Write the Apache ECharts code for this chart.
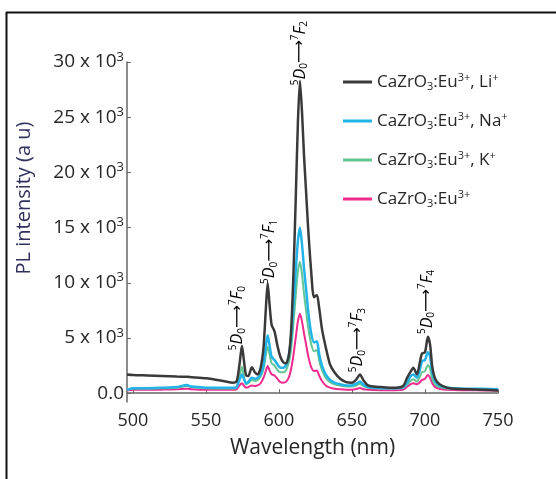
<!DOCTYPE html>
<html><head><meta charset="utf-8">
<script src="https://cdn.jsdelivr.net/npm/echarts@6/dist/echarts.min.js"></script>
<style>html,body{margin:0;padding:0;background:#fff}#c{width:556px;height:479px}</style>
</head><body><div id="c"></div>
<script>
const wavelengths = [496,500,510,520,530,537,540,550,560,568,571,573,574.7,576,577.5,579,581.5,583.5,585.5,587.5,589.5,591,592.3,593.5,595,597,599,601,603,605,607,608.5,610,611.5,613,614.4,615.8,617.2,618.5,620,622,624,626,627.5,629.5,632,635,638,642,646,650,653,655.5,658,661,665,670,675,680,685,688,690,692,694.5,696.5,698,700,702,703.5,705,707,710,715,720,730,740,750];
const liValues = [1700,1650,1600,1550,1500,1480,1450,1350,1150,950,1050,2600,4300,3000,1600,1550,2350,1900,1700,2300,4200,7500,9950,8200,6200,5600,4300,3300,2800,2700,3600,6000,11000,17500,24500,28300,25500,21500,18500,15000,11200,8700,8900,7800,5800,4200,2600,1900,1300,1000,950,1250,1700,1150,700,600,550,500,500,650,1450,1900,2300,1700,2800,3600,3700,5100,4400,2400,1300,800,500,400,350,300,250];
const naValues = [300,450,450,480,550,750,600,500,480,480,550,1200,1700,1300,900,1000,1400,1300,1400,1700,2600,4200,5250,4400,3300,3000,2600,2300,2300,2600,3600,5200,8000,11000,13800,15000,13500,11300,9600,7500,5500,4600,4700,3600,2500,1700,1200,950,800,700,700,850,1050,750,550,500,450,450,450,550,1000,1500,1700,1400,2100,2900,3000,3700,3300,1900,1100,700,500,450,400,400,350];
const kValues = [300,420,420,440,500,650,550,450,430,430,500,1500,2400,1500,800,900,1200,1100,1200,1500,2200,3400,4200,3600,2700,2500,2100,1900,1900,2100,2900,4200,6400,8800,11000,11900,10800,9000,7600,6000,4500,3800,3900,3000,2100,1400,1000,800,700,600,600,700,850,650,500,450,420,420,420,500,800,1100,1250,1050,1500,1900,2000,2550,2200,1300,800,550,420,400,380,350,320];
const euValues = [250,300,300,320,350,400,350,300,300,300,350,700,900,700,500,550,700,650,700,900,1400,2000,2450,2100,1700,1600,1300,1000,950,1050,1500,2300,3500,5000,6500,7200,6500,5400,4500,3400,2400,2000,2050,1600,1100,700,500,400,350,320,320,380,470,350,300,280,270,270,270,320,600,800,900,800,1000,1200,1300,1650,1400,900,550,400,300,280,260,250,230];
const xTicks = [500,550,600,650,700,750];
const yTicks = [0,5000,10000,15000,20000,25000,30000];
const seriesNames = ['Li','Na','K','Eu'];
const legendLabels = {
  Li: '{n|CaZrO}{b|3}{n|:Eu}{t|3+}{n|, Li}{t|+}',
  Na: '{n|CaZrO}{b|3}{n|:Eu}{t|3+}{n|, Na}{t|+}',
  K:  '{n|CaZrO}{b|3}{n|:Eu}{t|3+}{n|, K}{t|+}',
  Eu: '{n|CaZrO}{b|3}{n|:Eu}{t|3+}'
};
const annotations = [
  {level:'0', x:571.9, y:6800},
  {level:'1', x:593.8, y:12800},
  {level:'2', x:614.4, y:30800},
  {level:'3', x:654.1, y:4800},
  {level:'4', x:701.4, y:8260}
];

const colors = {Li:'#3a3a3a', Na:'#22b4e8', K:'#62c592', Eu:'#ef2b8e'};
const widths = {Li:2.5, Na:2.5, K:2, Eu:2};
const valueMap = {Li:liValues, Na:naValues, K:kValues, Eu:euValues};
const FONT = 'Open Sans';
const TXT = '#262626';

function pairs(vals){ return wavelengths.map((w,i)=>[w, vals[i]]); }

const chart = echarts.init(document.getElementById('c'), null, {renderer:'canvas'});
const drawOrder = ['Eu','K','Na','Li'];
const option = {
  animation:false,
  backgroundColor:'#fff',
  grid:{left:127, right:58, top:62, bottom:77},
  legend:{
    data: seriesNames,
    orient:'vertical', left:343, top:72, padding:0,
    icon:'rect', itemWidth:29, itemHeight:3, itemGap:19, 
    formatter: n => legendLabels[n],
    textStyle:{
      color:TXT, fontFamily:FONT,
      rich:{
        n:{fontSize:17, fontFamily:FONT, color:TXT, lineHeight:20},
        b:{fontSize:11, fontFamily:FONT, color:TXT, verticalAlign:'bottom', lineHeight:11},
        t:{fontSize:11, fontFamily:FONT, color:TXT, verticalAlign:'top', lineHeight:11}
      }
    }
  },
  xAxis:{
    type:'value', min:496, max:750,
    name:'Wavelength (nm)', nameLocation:'middle', nameGap:36,
    nameTextStyle:{fontSize:21, fontFamily:FONT, color:TXT},
    axisLine:{show:true, lineStyle:{color:'#666', width:1.5}},
    axisTick:{show:true, inside:true, length:4, customValues:xTicks, lineStyle:{color:'#666'}},
    axisLabel:{customValues:xTicks, fontSize:18, fontFamily:FONT, color:TXT, margin:10},
    splitLine:{show:false}
  },
  yAxis:{
    type:'value', min:-800, max:30000,
    name:'PL intensity (a u)', nameLocation:'middle', nameGap:93,
    nameTextStyle:{fontSize:20, fontFamily:FONT, color:'#30305e', padding:[0,0,0,68]},
    axisLine:{show:true, lineStyle:{color:'#666', width:1.5}},
    axisTick:{show:true, inside:true, length:4, customValues:yTicks, lineStyle:{color:'#666'}},
    axisLabel:{
      customValues:yTicks, margin:3,
      formatter: v => v === 0 ? '{n|0.0}' : '{n|' + (v/1000) + ' x 10}{s|3}',
      rich:{
        n:{fontSize:19, fontFamily:FONT, color:TXT, lineHeight:23},
        s:{fontSize:13, fontFamily:FONT, color:TXT, verticalAlign:'top', lineHeight:13}
      }
    },
    splitLine:{show:false}
  },
  series: drawOrder.map((n,i)=>({
    name:n, type:'line', data:pairs(valueMap[n]), showSymbol:false, smooth:0.25,
    z: 2+i,
    lineStyle:{color:colors[n], width:widths[n]}, itemStyle:{color:colors[n]}
  })),
  graphic:{elements:[
    {id:'frameTop', type:'line', shape:{x1:6, y1:12.5, x2:556, y2:12.5}, style:{stroke:'#111', lineWidth:2}, silent:true},
    {id:'frameLeft', type:'line', shape:{x1:6.5, y1:12, x2:6.5, y2:479}, style:{stroke:'#111', lineWidth:2}, silent:true}
  ]}
};
chart.setOption(option);

const AC = '#5a5a5a';
const annRich = {
  n:{fontSize:16, fontFamily:'DejaVu Sans', color:AC, lineHeight:19},
  i:{fontSize:16, fontFamily:FONT, fontStyle:'italic', color:AC, lineHeight:19},
  p:{fontSize:10, fontFamily:FONT, color:AC, verticalAlign:'top', lineHeight:10},
  b:{fontSize:10, fontFamily:FONT, color:AC, verticalAlign:'bottom', lineHeight:10}
};
const annEls = annotations.map((a,idx)=>{
  const p = chart.convertToPixel({gridIndex:0}, [a.x, a.y]);
  return {
    id:'ann'+idx, type:'text', x:p[0], y:p[1], rotation:Math.PI/2, silent:true, z:100,
    style:{
      text:'{p|5}{i|D}{b|0}{n|\u27F6}{p|7}{i|F}{b|'+a.level+'}',
      rich:annRich, align:'center', verticalAlign:'middle'
    }
  };
});
chart.setOption({graphic:{elements:annEls}});
</script></body></html>
